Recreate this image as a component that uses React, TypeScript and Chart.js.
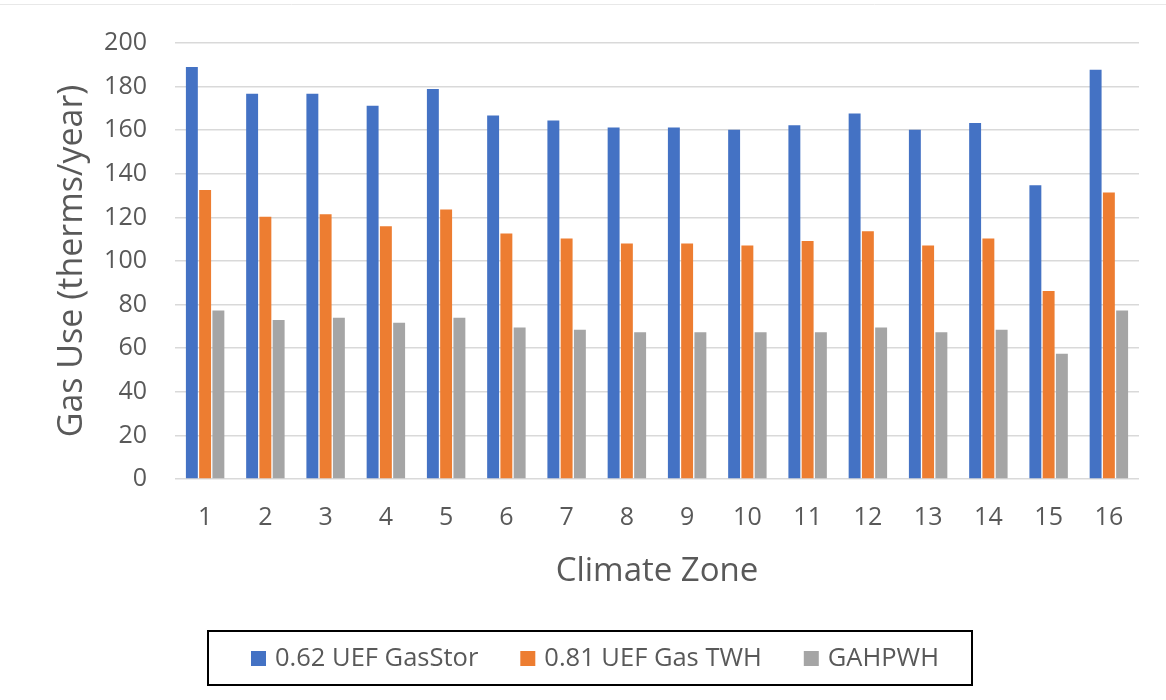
import { useEffect, useRef } from "react";
import { Chart, registerables } from "chart.js";

Chart.register(...registerables);

// Climate zones along the category axis
const zones = ["1", "2", "3", "4", "5", "6", "7", "8", "9", "10", "11", "12", "13", "14", "15", "16"];

// Annual gas use per zone (therms/year)
const gasStorUse = [189, 176.7, 176.7, 171.2, 178.9, 166.7, 164.5, 161.2, 161.2, 160.2, 162.3, 167.7, 160.2, 163.3, 134.7, 187.7];
const gasTwhUse = [132.6, 120.3, 121.4, 115.9, 123.6, 112.6, 110.3, 108, 108, 107.1, 109.2, 113.6, 107.1, 110.3, 86.2, 131.4];
const gahpwhUse = [77.3, 72.9, 74, 71.7, 74, 69.5, 68.5, 67.3, 67.3, 67.3, 67.3, 69.5, 67.3, 68.5, 57.4, 77.3];

const seriesNames = ["0.62 UEF GasStor", "0.81 UEF Gas TWH", "GAHPWH"];
const seriesColors = ["#4472C4", "#ED7D31", "#A5A5A5"];

const yMin = 0;
const yMax = 200;
const yStep = 20;

const FONT = "'Open Sans', 'Noto Sans', sans-serif";
const TEXT_COLOR = "#595959";

// Boxed legend drawn beneath the axis title
const boxedLegend = {
  id: "boxedLegend",
  afterDraw(chart: any) {
    const ctx = chart.ctx as CanvasRenderingContext2D;
    const box = { left: 208, top: 631, right: 972, bottom: 685 };
    ctx.save();
    ctx.strokeStyle = "#000000";
    ctx.lineWidth = 2;
    ctx.strokeRect(box.left, box.top, box.right - box.left, box.bottom - box.top);

    ctx.font = `25.5px ${FONT}`;
    ctx.textBaseline = "middle";
    ctx.textAlign = "left";
    const cy = (box.top + box.bottom) / 2 + 0.5;
    const sq = 15;
    let x = box.left + 43;
    chart.data.datasets.forEach((ds: any) => {
      ctx.fillStyle = ds.backgroundColor;
      ctx.fillRect(x, cy - sq / 2, sq, sq);
      x += sq + 9;
      ctx.fillStyle = TEXT_COLOR;
      ctx.fillText(ds.label, x, cy);
      x += ctx.measureText(ds.label).width + 42;
    });
    ctx.restore();
  },
  beforeDraw(chart: any) {
    const ctx = chart.ctx as CanvasRenderingContext2D;
    ctx.save();
    ctx.fillStyle = "#ffffff";
    ctx.fillRect(0, 0, chart.width, chart.height);
    ctx.strokeStyle = "#e8e8e8";
    ctx.lineWidth = 1;
    ctx.beginPath();
    ctx.moveTo(0, 4.5);
    ctx.lineTo(chart.width, 4.5);
    ctx.stroke();
    ctx.restore();
  },
};

export default function App() {
  const canvasRef = useRef<HTMLCanvasElement | null>(null);

  useEffect(() => {
    if (!canvasRef.current) return;
    const values = [gasStorUse, gasTwhUse, gahpwhUse];
    const chart = new Chart(canvasRef.current, {
      type: "bar",
      data: {
        labels: zones,
        datasets: values.map((data, i) => ({
          label: seriesNames[i],
          data,
          backgroundColor: seriesColors[i],
          borderWidth: 0,
          categoryPercentage: 0.66,
          barPercentage: 0.9,
        })),
      },
      options: {
        responsive: false,
        animation: false,
        layout: { padding: { left: 0, right: 27, top: 40, bottom: 91 } },
        plugins: {
          legend: { display: false },
          tooltip: { enabled: false },
          title: { display: false },
        },
        scales: {
          x: {
            grid: { display: false, drawTicks: false },
            border: { display: false },
            ticks: {
              color: TEXT_COLOR,
              font: { family: FONT, size: 25 },
              padding: 24,
              maxRotation: 0,
            },
            title: {
              display: true,
              text: "Climate Zone",
              color: TEXT_COLOR,
              font: { family: FONT, size: 33 },
              padding: { top: 0, bottom: 18 },
            },
            afterFit(scale: any) {
              scale.height = 130;
            },
          },
          y: {
            min: yMin,
            max: yMax,
            grid: { color: "#d9d9d9", lineWidth: 1.5, drawTicks: false },
            border: { display: false },
            ticks: {
              stepSize: yStep,
              color: TEXT_COLOR,
              font: { family: FONT, size: 25 },
              padding: 28,
            },
            title: {
              display: true,
              text: "Gas Use (therms/year)",
              color: TEXT_COLOR,
              font: { family: FONT, size: 34 },
              padding: { top: 51.6, bottom: 0 },
            },
            afterFit(scale: any) {
              scale.width = 175;
            },
          },
        },
      },
      plugins: [boxedLegend],
    });
    return () => chart.destroy();
  }, []);

  return (
    <div style={{ position: "absolute", left: 0, top: 0, width: 1166, height: 700, background: "#fff" }}>
      <canvas ref={canvasRef} width={1166} height={700} style={{ display: "block" }} />
    </div>
  );
}
